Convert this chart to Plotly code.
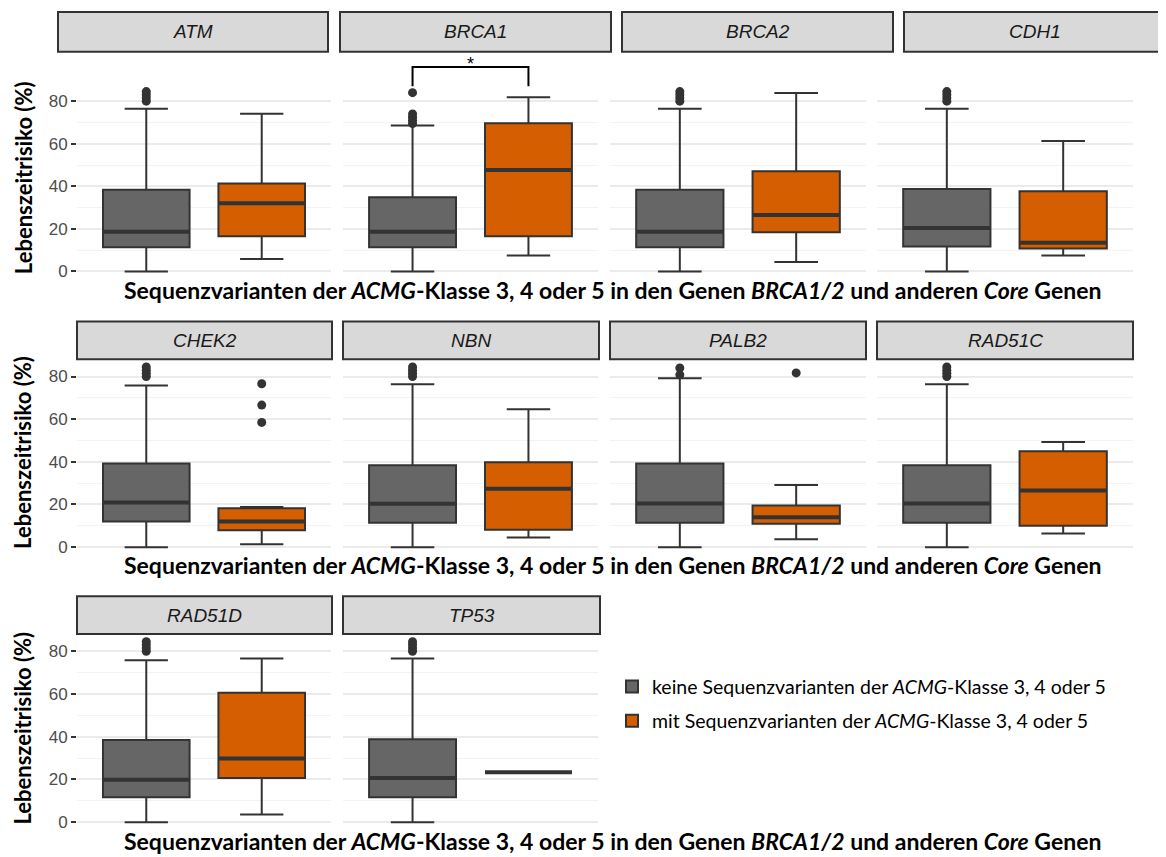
import plotly.graph_objects as go

# ---------------- data ----------------
genes = ["ATM", "BRCA1", "BRCA2", "CDH1", "CHEK2", "NBN", "PALB2", "RAD51C", "RAD51D", "TP53"]

grey_low = [0, 0, 0, 0, 0, 0, 0, 0, 0, 0]
grey_q1 = [11.4, 11.4, 11.4, 11.7, 12.0, 11.4, 11.4, 11.4, 11.65, 11.65]
grey_med = [18.7, 18.7, 18.7, 20.4, 20.9, 20.4, 20.5, 20.5, 19.9, 20.7]
grey_q3 = [38.4, 34.8, 38.4, 38.7, 39.2, 38.4, 39.2, 38.4, 38.5, 38.8]
grey_high = [76.4, 68.6, 76.4, 76.4, 75.8, 76.4, 79.2, 76.4, 75.8, 76.6]
grey_out = [[80, 81.5, 83, 84.5], [69.5, 71, 72.5, 74, 84], [80, 81.5, 83, 84.5],
            [80, 81.5, 83, 84.5], [80, 81.5, 83, 84.5], [80, 81.5, 83, 84.5],
            [80.8, 84], [80, 81.5, 83, 84.5], [80, 81.5, 83, 84.5], [80, 81.5, 83, 84.5]]

orange_low = [5.9, 7.5, 4.4, 7.5, 1.4, 4.5, 3.7, 6.4, 3.6, 23.3]
orange_q1 = [16.5, 16.5, 18.4, 10.8, 7.9, 8.1, 11.0, 10.0, 20.7, 23.3]
orange_med = [32.0, 47.7, 26.5, 13.5, 12.0, 27.4, 14.0, 26.6, 29.8, 23.3]
orange_q3 = [41.3, 69.6, 47.1, 37.7, 18.2, 39.8, 19.5, 45.0, 60.6, 23.3]
orange_high = [74.1, 81.9, 83.9, 61.3, 18.8, 64.7, 29.1, 49.3, 76.6, 23.3]
orange_out = [[], [], [], [], [58.5, 66.6, 76.6], [], [81.7], [], [], []]

group_pos = [1, 2]            # grey, orange category positions
box_width = 0.75
sig_gene = "BRCA1"
sig_bracket_y = 96.1
sig_tip_y = 87.0
sig_label = "*"

y_tickvals = [0, 20, 40, 60, 80]
y_minorvals = [10, 30, 50, 70]

legend_names = ["keine Sequenzvarianten der <i>ACMG</i>-Klasse 3, 4 oder 5",
                "mit Sequenzvarianten der <i>ACMG</i>-Klasse 3, 4 oder 5"]
x_title = "<b>Sequenzvarianten der <i>ACMG</i>-Klasse 3, 4 oder 5 in den Genen <i>BRCA1/2</i> und anderen <i>Core</i> Genen</b>"
y_title = "<b>Lebenszeitrisiko (%)</b>"

# ---------------- layout geometry (pixels in the page) ----------------
OFF = 8                       # default page margin around the plot div
W, H = 1166 - OFF, 857 - OFF
GREY, ORANGE, LINE = "#666666", "#D55E00", "#333333"


def px(X):
    return (X - OFF) / W


def py(Y):
    return 1 - (Y - OFF) / H


col_x = [(77, 331), (343, 598), (610, 866), (877, 1133)]
rows = [  # (top, bottom, yrange)
    (58, 280, [-3.42, 100.4]),
    (362, 556, [-2.94, 87.6]),
    (638, 832, [-2.8, 87.6]),
]
strip_rows = [
    (12, 52, [(58, 328), (340, 611), (622, 893), (904, 1172)]),
    (323, 361, [(77, 332), (343, 599), (610, 866), (877, 1133)]),
    (599, 637, [(77, 332), (343, 600)]),
]
panel_rc = [(0, 0), (0, 1), (0, 2), (0, 3), (1, 0), (1, 1), (1, 2), (1, 3), (2, 0), (2, 1)]
xtitle_y = [291, 568, 845]
ytitle_y = [179, 455, 732]

fig = go.Figure()
layout = {}
shapes = []
annotations = []

for i, g in enumerate(genes):
    r, c = panel_rc[i]
    sfx = "" if i == 0 else str(i + 1)
    xa, ya = "x" + sfx, "y" + sfx
    top, bot, yr = rows[r]
    x0, x1 = col_x[c]
    layout["xaxis" + sfx] = dict(domain=[px(x0), px(x1)], range=[0.4, 2.6], anchor=ya,
                                 showticklabels=False, showgrid=False, zeroline=False,
                                 showline=False, ticks="", fixedrange=True)
    first_col = (c == 0)
    layout["yaxis" + sfx] = dict(domain=[py(bot), py(top)], range=yr, anchor=xa,
                                 tickvals=y_tickvals, showticklabels=first_col,
                                 ticks="outside" if first_col else "", ticklen=5, tickwidth=2,
                                 tickcolor=LINE,
                                 tickfont=dict(family="Liberation Sans", size=17, color="#4D4D4D"),
                                 showgrid=True, gridcolor="#EBEBEB", gridwidth=2,
                                 minor=dict(tickvals=y_minorvals, showgrid=True,
                                            gridcolor="#F3F3F3", gridwidth=1, ticks=""),
                                 zeroline=False, showline=False, fixedrange=True)

    stats = [
        (grey_low[i], grey_q1[i], grey_med[i], grey_q3[i], grey_high[i], grey_out[i], GREY, 0),
        (orange_low[i], orange_q1[i], orange_med[i], orange_q3[i], orange_high[i], orange_out[i], ORANGE, 1),
    ]
    for lo, q1, md, q3, hi, outs, col, k in stats:
        xpos = group_pos[k]
        fig.add_trace(go.Box(
            x=[xpos], q1=[q1], median=[md], q3=[q3], lowerfence=[lo], upperfence=[hi],
            width=box_width, fillcolor=col, line=dict(color=LINE, width=2),
            boxpoints=False, xaxis=xa, yaxis=ya,
            name=legend_names[k], legendgroup=legend_names[k],
            showlegend=(i == 0), hoverinfo="skip"))
        # thicker median line (ggplot style)
        fig.add_trace(go.Scatter(
            x=[xpos - box_width / 2, xpos + box_width / 2], y=[md, md], mode="lines",
            line=dict(color=LINE, width=4), xaxis=xa, yaxis=ya,
            showlegend=False, hoverinfo="skip"))
        if outs:
            fig.add_trace(go.Scatter(
                x=[xpos] * len(outs), y=outs, mode="markers",
                marker=dict(color=LINE, size=9), xaxis=xa, yaxis=ya,
                showlegend=False, hoverinfo="skip"))

    if g == sig_gene:
        fig.add_trace(go.Scatter(
            x=[group_pos[0], group_pos[0], group_pos[1], group_pos[1]],
            y=[sig_tip_y, sig_bracket_y, sig_bracket_y, sig_tip_y], mode="lines",
            line=dict(color="black", width=2), xaxis=xa, yaxis=ya,
            showlegend=False, hoverinfo="skip"))
        annotations.append(dict(x=sum(group_pos) / 2, y=sig_bracket_y, xref=xa, yref=ya,
                                text=sig_label, showarrow=False, yanchor="bottom",
                                yshift=-9, font=dict(family="Liberation Sans", size=18, color="black")))

# strips
for i, g in enumerate(genes):
    r, c = panel_rc[i]
    sy0, sy1, xs = strip_rows[r]
    sx0, sx1 = xs[c]
    shapes.append(dict(type="rect", xref="paper", yref="paper",
                       x0=px(sx0), x1=px(sx1), y0=py(sy1), y1=py(sy0),
                       fillcolor="#D9D9D9", line=dict(color=LINE, width=2), layer="below"))
    annotations.append(dict(x=px((sx0 + min(sx1, 1166)) / 2), y=py((sy0 + sy1) / 2),
                            xref="paper", yref="paper", text="<i>" + g + "</i>",
                            showarrow=False, xanchor="center", yanchor="middle",
                            font=dict(family="Liberation Sans", size=19, color="#1A1A1A")))

# axis titles
for yy in xtitle_y:
    annotations.append(dict(x=px(612), y=py(yy), xref="paper", yref="paper",
                            text=x_title, showarrow=False, xanchor="center", yanchor="middle",
                            font=dict(family="Lato", size=23, color="black")))
for yy in ytitle_y:
    annotations.append(dict(x=px(23), y=py(yy), xref="paper", yref="paper",
                            text=y_title, showarrow=False, textangle=-90,
                            xanchor="center", yanchor="middle",
                            font=dict(family="Lato", size=22, color="black")))

fig.update_layout(**layout)
fig.update_layout(
    width=W, height=H, margin=dict(l=0, r=0, t=0, b=0),
    paper_bgcolor="white", plot_bgcolor="white",
    shapes=shapes, annotations=annotations,
    showlegend=True,
    legend=dict(x=px(612), y=py(707), xanchor="left", yanchor="middle",
                font=dict(family="Lato", size=19.5, color="black"),
                tracegroupgap=6, bgcolor="rgba(0,0,0,0)", traceorder="grouped"),
)

fig.write_html("out.html")
